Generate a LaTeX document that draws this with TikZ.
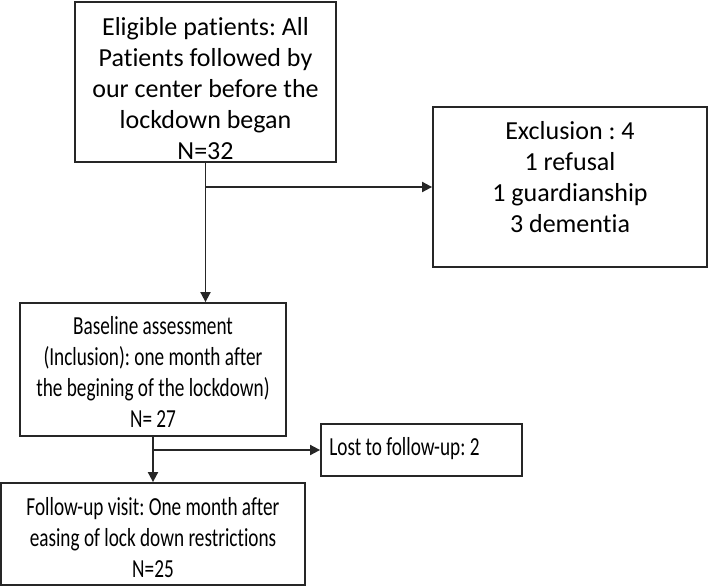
\documentclass[tikz,border=0pt]{standalone}
\usepackage{fontspec}
\setmainfont{Carlito}[Ligatures=NoCommon]
\newfontfamily\narrowfont{Carlito}[Ligatures=NoCommon, FakeStretch=0.74]
\usetikzlibrary{arrows.meta}

\tikzset{
    box/.style={draw=black!85, line width=1.8pt, inner sep=0pt},
    boxtext/.style={align=center, inner sep=0pt, font=\fontsize{26}{31}\selectfont\frenchspacing},
    narrowtext/.style={boxtext, font=\fontsize{26}{31}\selectfont\narrowfont\frenchspacing},
    link/.style={draw=black!85, line width=1.8pt},
    linkarrow/.style={link, -{Triangle[length=10pt,width=10pt]}}
}

\begin{document}
\begin{tikzpicture}[x=1pt,y=1pt]
        \useasboundingbox (0,0) rectangle (709,-586);

        % The top box
        \node[box, minimum width=261pt, minimum height=160pt,
            label={[boxtext, yshift=-7pt]center:Eligible patients: All\\Patients followed by\\our center before the\\lockdown began\\N=32}]
            (elig) at (205.5,-82) {};

        % The exclusion box
        \node[box, minimum width=274pt, minimum height=160pt,
            label={[boxtext, yshift=9.5pt]center:Exclusion : 4\\1 refusal\\1 guardianship\\3 dementia}]
            (excl) at (570,-187) {};

        % The baseline box
        \node[box, minimum width=266pt, minimum height=133pt,
            label={[narrowtext, yshift=-2.5pt]center:Baseline assessment\\(Inclusion): one month after\\the begining of the lockdown)\\N= 27}]
            (base) at (153,-369.5) {};

        % The lost box
        \node[box, minimum width=201pt, minimum height=52pt,
            label={[narrowtext, anchor=west, xshift=9pt, yshift=1.5pt]west:Lost to follow-up: 2}]
            (lost) at (421.5,-450) {};

        % The follow-up box
        \node[box, minimum width=304pt, minimum height=102pt,
            label={[narrowtext, yshift=-3.5pt]center:Follow-up visit: One month after\\easing of lock down restrictions\\N=25}]
            (follow) at (153,-534) {};

        % Top edges
        \coordinate (split1) at (elig.south |- excl.west);
        \draw[linkarrow] (elig.south) -- (elig.south |- base.north);
        \draw[linkarrow] (split1) -- (excl.west);

        % Bottom edges
        \coordinate (split2) at (base.south |- lost.west);
        \draw[linkarrow] (base.south) -- (follow.north);
        \draw[linkarrow] (split2) -- (lost.west);

    \end{tikzpicture}
\end{document}
